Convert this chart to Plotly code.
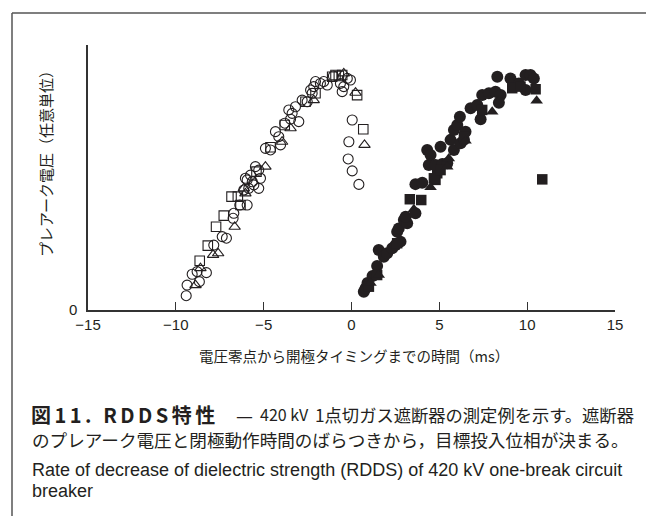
import plotly.graph_objects as go

# ---- data (time in ms, pre-arc voltage in arbitrary units 0-100) ----
open_circle_x = [-9.41, -9.36, -8.66, -9.07, -8.79, -8.26, -7.84, -7.36, -7.12, -6.70, -6.74, -6.36,
                 -5.94, -6.13, -5.85, -5.94, -5.65, -5.28, -5.47, -6.04, -5.75, -5.18, -5.56, -5.28,
                 -4.90, -4.61, -4.04, -4.33, -4.14, -3.80, -3.47, -3.00, -3.57, -3.38, -3.19, -2.81,
                 -2.52, -2.33, -2.15, -2.24, -2.05, -1.77, -1.58, -1.38, -1.03, -0.24, -0.06, -0.63,
                 -0.53, -0.44, 0.04, -0.15, -0.19, 0.04, 0.42]
open_circle_y = [5.4, 9.4, 10.7, 13.5, 14.5, 14.1, 24.5, 27.7, 27.1, 36.5, 34.6, 39.6,
                 39.6, 45.3, 45.9, 49.1, 48.4, 45.9, 54.1, 49.7, 50.9, 49.7, 47.2, 52.8,
                 61.0, 60.4, 62.3, 67.3, 65.4, 70.5, 72.0, 71.1, 75.5, 74.2, 76.7, 79.2,
                 78.6, 83.0, 84.3, 81.8, 86.2, 85.5, 86.2, 84.9, 88.3, 87.4, 86.8, 85.5,
                 82.4, 84.3, 71.7, 63.5, 57.0, 52.5, 47.4]

open_square_x = [-8.64, -8.18, -7.71, -7.27, -6.83, -6.47, -6.32, -5.41, -4.61, -3.80, -2.62, -2.05,
                 -1.10, -0.91, -0.72, -0.53, 0.32, 0.67]
open_square_y = [18.6, 24.3, 31.4, 35.6, 42.8, 42.8, 39.6, 52.2, 61.4, 69.8, 78.6, 81.8,
                 88.0, 88.7, 88.3, 88.7, 81.1, 68.2]

open_triangle_x = [-8.88, -8.60, -7.88, -7.59, -6.65, -6.04, -6.13, -4.90, -3.95, -3.47, -2.15,
                   -0.44, 0.23, 0.74]
open_triangle_y = [9.4, 15.8, 20.8, 21.4, 31.4, 44.0, 45.9, 54.1, 63.5, 68.6, 79.2,
                   89.3, 82.0, 62.3]

filled_circle_x = [0.70, 0.80, 0.91, 1.20, 1.46, 1.55, 1.84, 2.03, 2.32, 2.51, 2.79, 2.60, 2.69,
                   2.98, 3.17, 3.08, 3.64, 3.64, 4.03, 4.40, 4.78, 5.17, 5.45, 4.31, 4.50, 5.07,
                   5.64, 5.83, 6.21, 6.40, 5.83, 6.02, 6.17, 6.49, 6.78, 7.16, 7.35, 7.44, 7.82,
                   8.20, 8.49, 8.39, 8.30, 9.05, 9.24, 9.53, 9.91, 10.19, 10.38, 9.91]
filled_circle_y = [6.9, 8.2, 10.2, 12.8, 16.6, 22.6, 20.1, 21.4, 23.3, 24.5, 25.8, 29.5, 30.8,
                   34.0, 32.7, 35.2, 36.5, 47.5, 48.0, 54.7, 54.7, 55.1, 55.4, 60.4, 58.5, 61.6,
                   64.2, 60.4, 62.9, 64.2, 67.9, 69.8, 72.9, 67.3, 76.1, 77.4, 72.0, 81.1, 81.8,
                   82.4, 81.1, 78.2, 88.0, 87.4, 85.5, 85.5, 88.7, 88.7, 87.4, 83.0]

filled_square_x = [0.99, 1.46, 2.60, 3.32, 3.97, 4.78, 4.88, 4.69, 5.07, 6.40, 7.44, 9.15, 9.62,
                   10.48, 10.86]
filled_square_y = [8.8, 13.2, 25.2, 41.8, 41.5, 49.1, 51.6, 49.7, 52.8, 65.4, 75.5, 83.7, 84.3,
                   83.3, 49.3]

filled_triangle_x = [1.08, 1.55, 3.55, 4.50, 5.45, 5.54, 6.49, 8.01, 10.54]
filled_triangle_y = [10.2, 13.2, 38.0, 46.3, 54.1, 57.2, 63.9, 74.8, 79.0]

x_ticks = [-15, -10, -5, 0, 5, 10, 15]
x_tick_text = ["−15", "−10", "−5", "0", "5", "10", "15"]

x_title = "電圧零点から開極タイミングまでの時間（ms）"
y_title = "プレアーク電圧（任意単位）"
caption_head = "<b>図11. RDDS特性</b>"
caption_dash = "—"
caption_kv = "420 kV"
caption_rest = "1点切ガス遮断器の測定例を示す。遮断器"
caption_2 = "のプレアーク電圧と閉極動作時間のばらつきから，目標投入位相が決まる。"
caption_en_1 = "Rate of decrease of dielectric strength (RDDS) of 420 kV one-break circuit"
caption_en_2 = "breaker"

INK = "#231f20"
JP = "Noto Sans CJK JP"
SANS = "Liberation Sans, Arial, sans-serif"

fig = go.Figure()

def add(xs, ys, symbol, size, lw=1.1):
    fig.add_trace(go.Scatter(
        x=xs, y=ys, mode="markers",
        marker=dict(symbol=symbol, size=size, color=INK,
                    line=dict(color=INK, width=lw)),
        showlegend=False, hoverinfo="skip"))

add(open_circle_x, open_circle_y, "circle-open", 10)
add(open_square_x, open_square_y, "square-open", 9.5)
add(open_triangle_x, open_triangle_y, "triangle-up-open", 10)
add(filled_circle_x, filled_circle_y, "circle", 12, 0)
add(filled_square_x, filled_square_y, "square", 10.5, 0)
add(filled_triangle_x, filled_triangle_y, "triangle-up", 11, 0)

L, R, T, B = 88, 31, 45, 206
W, H = 646, 516
pw, ph = W - L - R, H - T - B

def px(xp):
    return (xp - L) / pw

def py(yp):
    return (H - B - yp) / ph

fig.update_layout(
    width=W, height=H,
    margin=dict(l=L, r=R, t=T, b=B),
    paper_bgcolor="white", plot_bgcolor="white",
    xaxis=dict(range=[-15, 15], tickvals=x_ticks, ticktext=x_tick_text,
               ticks="inside", ticklen=8, tickwidth=1, tickcolor="#333",
               showline=True, linecolor="#333", linewidth=1.5,
               showgrid=False, zeroline=False,
               tickfont=dict(family=SANS, size=15, color=INK)),
    yaxis=dict(range=[0, 100], tickvals=[0], ticktext=["0"], ticks="",
               showline=True, linecolor="#333", linewidth=1.5,
               showgrid=False, zeroline=False, ticklabelstandoff=6,
               tickfont=dict(family=SANS, size=15, color=INK)),
    font=dict(family=JP, color=INK),
)

# frame lines
fig.add_shape(type="line", xref="paper", yref="paper",
              x0=px(12), x1=px(12), y0=py(13), y1=py(520),
              line=dict(color="#555", width=1.5))
fig.add_shape(type="line", xref="paper", yref="paper",
              x0=px(12), x1=px(650), y0=py(13), y1=py(13),
              line=dict(color="#555", width=1.5))

ann = [
    dict(text=x_title, x=px(354), y=py(355), size=14.5, xanchor="center", family=JP),
    dict(text="<span style='letter-spacing:3.5px'>" + caption_head + "</span>",
         x=px(29), y=py(414), size=20, xanchor="left", family=JP),
    dict(text=caption_dash, x=px(234), y=py(414), size=19, xanchor="left", family=JP),
    dict(text=caption_kv, x=px(258), y=py(414), size=16, xanchor="left", family=JP),
    dict(text=caption_rest, x=px(313), y=py(414), size=17.3, xanchor="left", family=JP),
    dict(text=caption_2, x=px(30), y=py(439), size=17.6, xanchor="left", family=JP),
    dict(text=caption_en_1, x=px(30), y=py(470), size=18, xanchor="left", family=SANS),
    dict(text=caption_en_2, x=px(30), y=py(491), size=18, xanchor="left", family=SANS),
]
for a in ann:
    fig.add_annotation(text=a["text"], xref="paper", yref="paper", x=a["x"], y=a["y"],
                       xanchor=a["xanchor"], yanchor="middle", showarrow=False,
                       font=dict(family=a["family"], size=a["size"], color=INK))

fig.add_annotation(text=y_title, xref="paper", yref="paper", x=px(45), y=py(160),
                   xanchor="center", yanchor="middle", textangle=-90, showarrow=False,
                   font=dict(family=JP, size=15, color=INK))

fig.write_html("out.html")
